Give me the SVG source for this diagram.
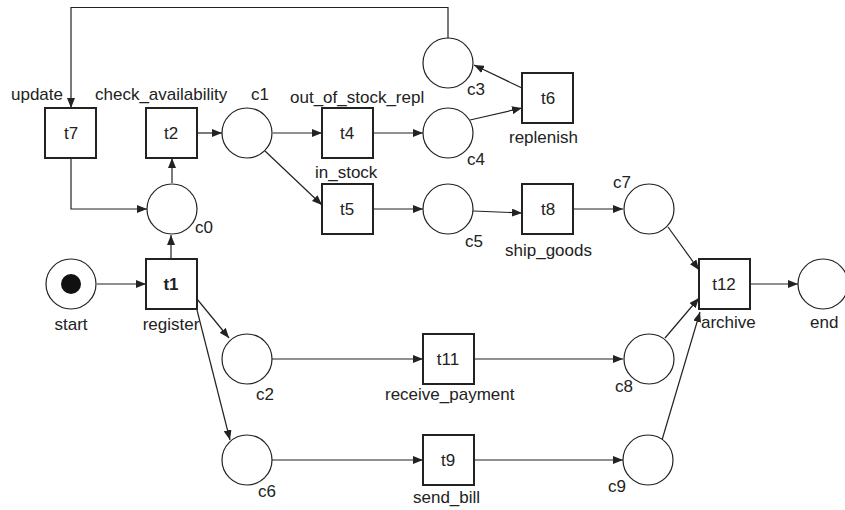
<svg xmlns="http://www.w3.org/2000/svg" width="845" height="510" viewBox="0 0 845 510">
<style>
.t{fill:#fff;stroke:#222;stroke-width:2}
.p{fill:#fff;stroke:#222;stroke-width:1.2}
.e{fill:none;stroke:#222;stroke-width:1.2}
text{font-family:"Liberation Sans",Arial,sans-serif;font-size:17px;fill:#222}
.c{text-anchor:middle}
</style>
<defs>
<marker id="a" viewBox="0 0 10 8" refX="10" refY="4" markerWidth="10" markerHeight="8" markerUnits="userSpaceOnUse" orient="auto">
<path d="M0,0 L10,4 L0,8 Z" fill="#222"/>
</marker>
</defs>
<rect width="845" height="510" fill="#fff"/>
<g id="connectors" class="e" marker-end="url(#a)">
<path d="M97,284 H146"/>
<path d="M171,259 V235"/>
<path d="M172,183 V158"/>
<path d="M197,133 H222"/>
<path d="M273,133 H322"/>
<path d="M265,151 L322,205"/>
<path d="M373,133 H423"/>
<path d="M373,209 H423"/>
<path d="M470,120 L522,108"/>
<path d="M522,88 L474,65"/>
<path d="M448,38 V7.5 H71 V108"/>
<path d="M71,158 V209 H147"/>
<path d="M473,211 L522,213"/>
<path d="M574,209 H623"/>
<path d="M197,299 L229,338"/>
<path d="M197,310 L230,440"/>
<path d="M272,359 H423"/>
<path d="M272,460 H423"/>
<path d="M473,359 H623"/>
<path d="M473,460 H623"/>
<path d="M668,227 L699,270"/>
<path d="M665,338 L699,298"/>
<path d="M662,440 L700,312"/>
<path d="M750,284 H798"/>
</g>
<g id="start"><circle class="p" cx="71" cy="284" r="25"/><circle cx="71" cy="284" r="10" fill="#111"/><text class="c" x="71" y="330">start</text></g>
<g id="t1"><rect class="t" x="146" y="259" width="51" height="50"/><text class="c" x="171" y="290" font-weight="bold">t1</text><text class="c" x="171" y="330">register</text></g>
<g id="c0"><circle class="p" cx="172" cy="209" r="25"/><text x="195" y="233">c0</text></g>
<g id="t7"><rect class="t" x="45" y="108" width="51" height="50"/><text class="c" x="71" y="139">t7</text><text x="11" y="100">update</text></g>
<g id="t2"><rect class="t" x="146" y="108" width="51" height="50"/><text class="c" x="171" y="139">t2</text><text x="95" y="100">check_availability</text></g>
<g id="c1"><circle class="p" cx="247" cy="133" r="25"/><text x="251" y="100">c1</text></g>
<g id="t4"><rect class="t" x="322" y="108" width="51" height="50"/><text class="c" x="347" y="139">t4</text><text x="290" y="103">out_of_stock_repl</text></g>
<g id="t5"><rect class="t" x="322" y="184" width="51" height="50"/><text class="c" x="347" y="215">t5</text><text x="315" y="178">in_stock</text></g>
<g id="c3"><circle class="p" cx="448" cy="63" r="25"/><text x="467" y="95">c3</text></g>
<g id="c4"><circle class="p" cx="448" cy="133" r="25"/><text x="467" y="165">c4</text></g>
<g id="c5"><circle class="p" cx="448" cy="209" r="25"/><text x="465" y="247">c5</text></g>
<g id="t6"><rect class="t" x="522" y="73" width="51" height="50"/><text class="c" x="548" y="104">t6</text><text x="509" y="143">replenish</text></g>
<g id="t8"><rect class="t" x="522" y="184" width="51" height="50"/><text class="c" x="548" y="215">t8</text><text x="505" y="256">ship_goods</text></g>
<g id="c7"><circle class="p" cx="649" cy="209" r="25"/><text x="613" y="188">c7</text></g>
<g id="c2"><circle class="p" cx="247" cy="359" r="25"/><text x="256" y="400">c2</text></g>
<g id="c6"><circle class="p" cx="247" cy="460" r="25"/><text x="258" y="497">c6</text></g>
<g id="t11"><rect class="t" x="423" y="334" width="51" height="50"/><text class="c" x="448" y="365">t11</text><text x="385" y="400">receive_payment</text></g>
<g id="t9"><rect class="t" x="423" y="435" width="51" height="50"/><text class="c" x="448" y="466">t9</text><text x="413" y="503">send_bill</text></g>
<g id="c8"><circle class="p" cx="649" cy="359" r="25"/><text x="615" y="392">c8</text></g>
<g id="c9"><circle class="p" cx="648" cy="460" r="25"/><text x="608" y="492">c9</text></g>
<g id="t12"><rect class="t" x="699" y="259" width="51" height="50"/><text class="c" x="724" y="290">t12</text><text x="701" y="328">archive</text></g>
<g id="end"><circle class="p" cx="823" cy="284" r="25"/><text x="810" y="328">end</text></g>
</svg>
